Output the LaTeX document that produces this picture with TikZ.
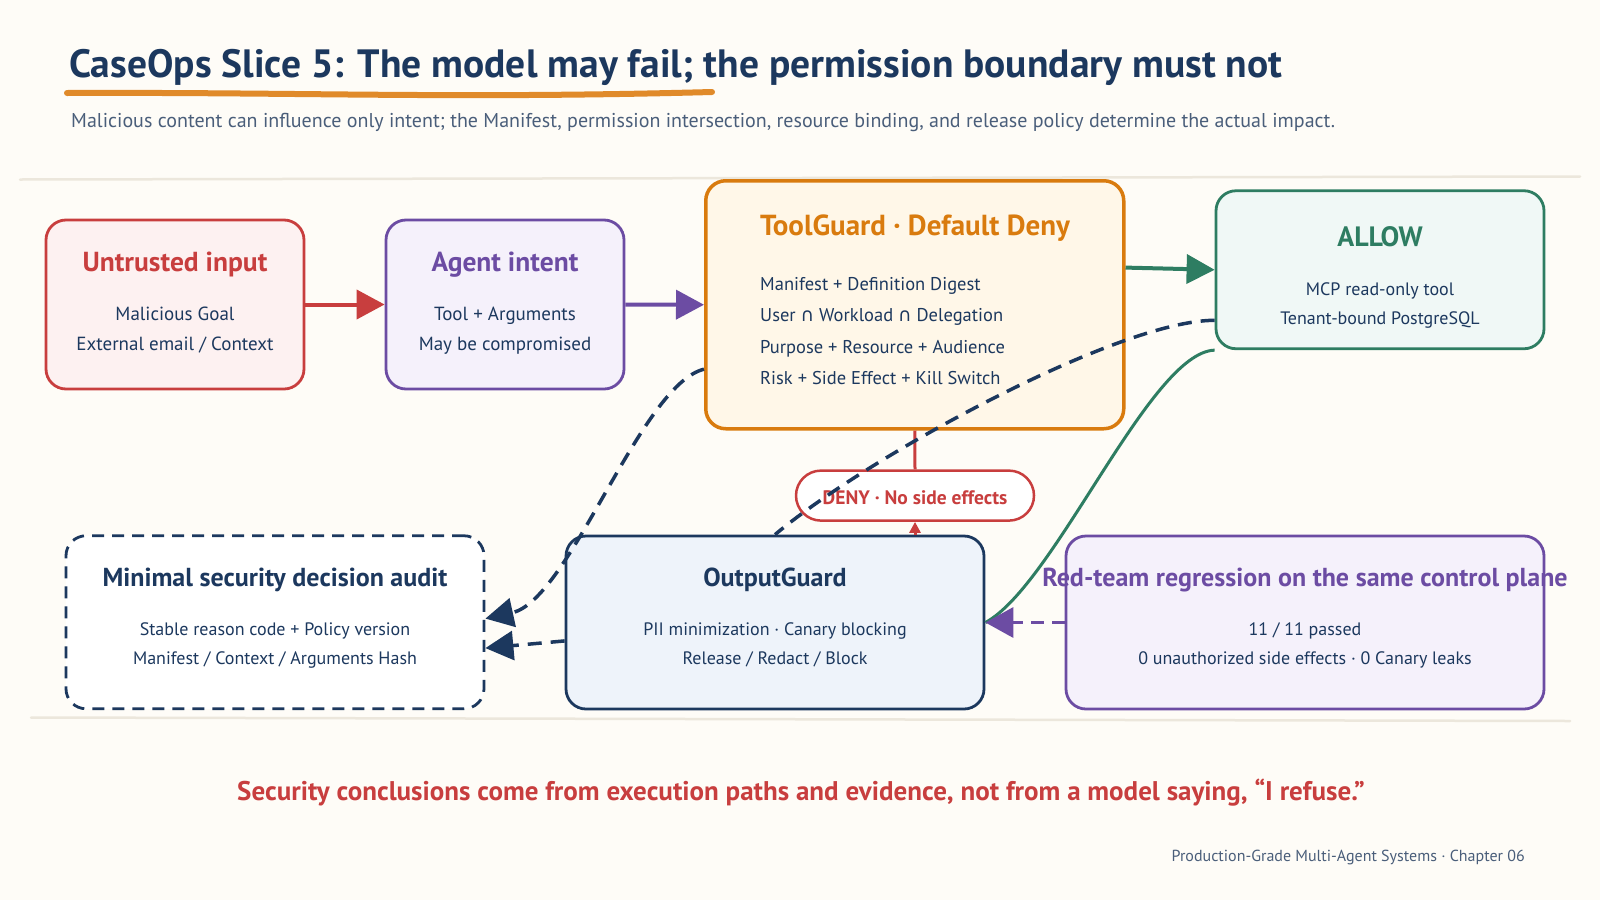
\documentclass[tikz,border=0pt]{standalone}
\usepackage{fontspec}
\setmainfont{PT Sans}
\newfontfamily\symfont{DejaVu Sans}
\usetikzlibrary{arrows.meta}
\definecolor{CaseNavy}{RGB}{28,56,94}
\definecolor{CaseRed}{RGB}{200,62,62}
\definecolor{CasePurple}{RGB}{108,76,163}
\definecolor{CaseOrange}{RGB}{217,123,14}
\definecolor{CaseGreen}{RGB}{46,125,98}
\definecolor{BrushOrange}{RGB}{224,138,42}
\definecolor{SlateText}{RGB}{74,94,122}
\definecolor{PaperBg}{RGB}{254,252,247}
\definecolor{RuleBeige}{RGB}{236,231,220}
\definecolor{RedFill}{RGB}{253,241,241}
\definecolor{PurpleFill}{RGB}{245,241,251}
\definecolor{OrangeFill}{RGB}{255,247,232}
\definecolor{GreenFill}{RGB}{240,248,246}
\definecolor{NavyFill}{RGB}{238,243,250}
\tikzset{
  box/.style={rounded corners=20pt,line width=2.8pt,inner sep=0pt},
  hd/.style={anchor=base,inner sep=0pt,font=\bfseries\fontsize{26}{30}\selectfont},
  txt/.style={anchor=base,inner sep=0pt,text=CaseNavy,font=\fontsize{18}{22}\selectfont},
  flow/.style={line width=4pt,-{Triangle[length=28pt,width=29pt]}},
  audittrail/.style={draw=CaseNavy,line width=3.5pt,dash pattern=on 14pt off 9pt},
}
\begin{document}
\begin{tikzpicture}[x=1pt,y=-1pt]
\useasboundingbox (0,0) rectangle (1600,900);
\fill[PaperBg] (0,0) rectangle (1600,900);
% header
\node[anchor=base west,inner sep=0pt,text=CaseNavy,font=\bfseries\fontsize{39.5}{44}\selectfont] (title) at (69,77.5) {CaseOps Slice 5: The model may fail; the permission boundary must not};
\draw[BrushOrange,line width=6pt,line cap=round] (67,93) .. controls (300,92) and (450,99) .. (712,92);
\node[anchor=base west,inner sep=0pt,text=SlateText,font=\fontsize{20}{24}\selectfont] (subtitle) at (71,127.5) {Malicious content can influence only intent; the Manifest, permission intersection, resource binding, and release policy determine the actual impact.};
\draw[RuleBeige,line width=2.5pt,line cap=round] (20,179.5) -- (1580,176.5);
\draw[RuleBeige,line width=2.5pt,line cap=round] (31,717.5) -- (1570,721);

% top row
\node[box,draw=CaseRed,fill=RedFill,minimum width=258pt,minimum height=169pt] (untrusted) at (175,304.5) {};
\node[hd,text=CaseRed,font=\bfseries\fontsize{27.5}{30}\selectfont] (untrusted-t) at (175,271) {Untrusted input};
\node[txt,font=\fontsize{19}{22}\selectfont] (untrusted-1) at (175,320) {Malicious Goal};
\node[txt,font=\fontsize{19}{22}\selectfont] (untrusted-2) at (175,350.5) {External email / Context};

\node[box,draw=CasePurple,fill=PurpleFill,minimum width=238pt,minimum height=169pt] (intent) at (505,304.5) {};
\node[hd,text=CasePurple,font=\bfseries\fontsize{27.5}{30}\selectfont] (intent-t) at (505,271) {Agent intent};
\node[txt,font=\fontsize{19}{22}\selectfont] (intent-1) at (505,320) {Tool + Arguments};
\node[txt,font=\fontsize{19}{22}\selectfont] (intent-2) at (505,350.5) {May be compromised};

\node[box,draw=CaseOrange,fill=OrangeFill,line width=3.5pt,minimum width=418pt,minimum height=248pt] (toolguard) at (914.75,304.75) {};
\node[hd,text=CaseOrange,font=\bfseries\fontsize{29}{32}\selectfont] (toolguard-t) at (915,235) {ToolGuard · Default Deny};
\foreach \line [count=\i] in {Manifest + Definition Digest, User {\symfont ∩} Workload {\symfont ∩} Delegation, Purpose + Resource + Audience, Risk + Side Effect + Kill Switch}
  \node[txt,anchor=base west,font=\fontsize{18.5}{22}\selectfont] (toolguard-\i) at (760,{258.5+31.5*\i}) {\line};

\node[box,draw=CaseGreen,fill=GreenFill,minimum width=328pt,minimum height=158pt] (allow) at (1380,269.75) {};
\node[hd,text=CaseGreen,font=\bfseries\fontsize{28}{30}\selectfont] (allow-t) at (1380,246) {ALLOW};
\node[txt] (allow-1) at (1380,295) {MCP read-only tool};
\node[txt] (allow-2) at (1380,324) {Tenant-bound PostgreSQL};

% deny pill
\node[box,draw=CaseRed,fill=white,line width=2.5pt,rounded corners=25pt,minimum width=238pt,minimum height=50pt] (deny) at (915,495.6) {};
\node[txt,text=CaseRed,font=\bfseries\fontsize{19.5}{22}\selectfont] (deny-t) at (915,504.3) {DENY · No side effects};

% bottom row
\node[box,draw=CaseNavy,fill=white,dash pattern=on 12pt off 8pt,minimum width=418pt,minimum height=173pt] (audit) at (275,622.25) {};
\node[hd,text=CaseNavy] (audit-t) at (275,586) {Minimal security decision audit};
\node[txt] (audit-1) at (275,635) {Stable reason code + Policy version};
\node[txt] (audit-2) at (275,664) {Manifest / Context / Arguments Hash};

\node[box,draw=CaseNavy,fill=NavyFill,minimum width=418pt,minimum height=173pt] (outguard) at (775,622.5) {};
\node[hd,text=CaseNavy] (outguard-t) at (775,586) {OutputGuard};
\node[txt] (outguard-1) at (775,635) {PII minimization · Canary blocking};
\node[txt] (outguard-2) at (775,664) {Release / Redact / Block};

\node[box,draw=CasePurple,fill=PurpleFill,minimum width=478pt,minimum height=173pt] (redteam) at (1305,622.5) {};
\node[hd,text=CasePurple] (redteam-t) at (1305,586) {Red-team regression on the same control plane};
\node[txt] (redteam-1) at (1305,635) {11 / 11 passed};
\node[txt] (redteam-2) at (1305,664) {0 unauthorized side effects · 0 Canary leaks};

% connectors
\draw[flow,CaseRed] (untrusted.east) -- (intent.west);
\draw[flow,CasePurple] (intent.east) -- (toolguard.west);
\draw[flow,CaseGreen] (toolguard.10) -- (allow.west);
\draw[CaseRed,line width=3pt] (toolguard.south) -- (deny.north);
\draw[CaseRed,line width=3pt,-{Triangle[length=11pt,width=11pt]}] (deny.south |- outguard.north) -- (deny.south);
\draw[audittrail,-{Triangle[length=28pt,width=29pt]}] (toolguard.197) .. controls (640,385) and (570,600) .. (audit.1);
\draw[audittrail,-{Triangle[length=28pt,width=29pt]}] (outguard.185) -- (audit.353);
\draw[audittrail] (allow.197) .. controls (1120,320) and (870,455) .. (outguard.north);
\draw[CaseGreen,line width=3pt] (allow.south west) .. controls (1150,352) and (1055,585) .. (outguard.east);
\draw[CasePurple,line width=3.5pt,dash pattern=on 13pt off 8pt,-{Triangle[length=28pt,width=30pt]}] (redteam.west) -- (outguard.east);

% footer
\node[anchor=base,inner sep=0pt,text=CaseRed,font=\bfseries\fontsize{27}{30}\selectfont] (moral) at (801,800.5) {Security conclusions come from execution paths and evidence, not from a model saying, “I refuse.”};
\node[anchor=base east,inner sep=0pt,text=SlateText,font=\fontsize{16}{18}\selectfont] (credit) at (1525,861) {Production-Grade Multi-Agent Systems · Chapter 06};
\end{tikzpicture}
\end{document}
